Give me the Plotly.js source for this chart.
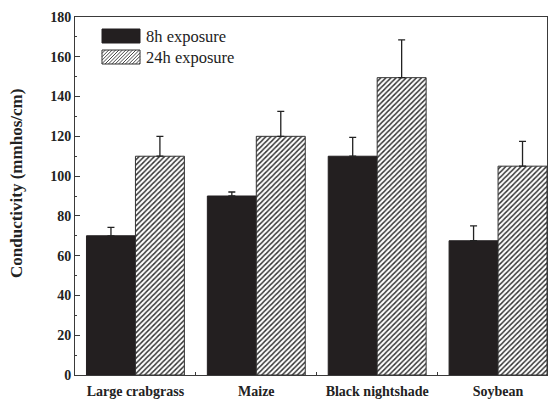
<!DOCTYPE html>
<html>
<head>
<meta charset="utf-8">
<script src="https://cdn.plot.ly/plotly-3.0.1.min.js"></script>
<style>html,body{margin:0;padding:0;background:#fff;}#chart{width:554px;height:399px;}</style>
</head>
<body>
<div id="chart"></div>
<script>
const categories = ["Large crabgrass", "Maize", "Black nightshade", "Soybean"];
const seriesNames = ["8h exposure", "24h exposure"];
const values8h = [70, 90, 110, 67.5];
const errors8h = [4.2, 2, 9.5, 7.5];
const values24h = [110, 120, 149.5, 105];
const errors24h = [10, 12.5, 19, 12.5];
const yTickVals = [0, 20, 40, 60, 80, 100, 120, 140, 160, 180];

const W = 554, H = 399;
const M = {l: 75, r: 7, t: 17, b: 24};
const pw = W - M.l - M.r, ph = H - M.t - M.b;
const px = x => (x - M.l) / pw;
const py = y => (H - M.b - y) / ph;

const serif = "'Liberation Serif', 'Times New Roman', serif";
const dark = "#231f20";

const traces = [
  {
    type: "bar", name: seriesNames[0], x: categories, y: values8h,
    marker: {color: dark, line: {color: dark, width: 1}},
    error_y: {type: "data", array: errors8h, arrayminus: errors8h.map(() => 0), symmetric: false,
              color: "#222", thickness: 1.3, width: 3.5},
    showlegend: false
  },
  {
    type: "bar", name: seriesNames[1], x: categories, y: values24h,
    marker: {color: "#ffffff", line: {color: "#333", width: 1},
             pattern: {shape: "/", size: 3.6, solidity: 0.4, fgcolor: "#333", bgcolor: "#ffffff"}},
    error_y: {type: "data", array: errors24h, arrayminus: errors24h.map(() => 0), symmetric: false,
              color: "#222", thickness: 1.3, width: 3.5},
    showlegend: false
  }
];

// legend drawn as shapes + text
const lx0 = 102, lx1 = 140;
const rows = [{y0: 29, y1: 43}, {y0: 50, y1: 64}];
const shapes = [
  {type: "rect", xref: "paper", yref: "paper", x0: px(lx0), x1: px(lx1), y0: py(rows[0].y1), y1: py(rows[0].y0),
   fillcolor: dark, line: {color: dark, width: 1}},
  {type: "rect", xref: "paper", yref: "paper", x0: px(lx0), x1: px(lx1), y0: py(rows[1].y1), y1: py(rows[1].y0),
   fillcolor: "#fff", line: {color: "#333", width: 1}}
];
// hatch lines for legend box
(function () {
  const bw = lx1 - lx0, bh = rows[1].y1 - rows[1].y0;
  let d = "";
  for (let k = -bh; k < bw; k += 3.4) {
    let xa = k, ya = 0, xb = k + bh, yb = bh;
    if (xa < 0) { ya = -xa; xa = 0; }
    if (xb > bw) { yb = bh - (xb - bw); xb = bw; }
    const X1 = px(lx0 + xa), Y1 = py(rows[1].y1 - ya);
    const X2 = px(lx0 + xb), Y2 = py(rows[1].y1 - yb);
    d += `M${X1},${Y1}L${X2},${Y2}`;
  }
  shapes.push({type: "path", xref: "paper", yref: "paper", path: d, line: {color: "#333", width: 0.9}});
})();

const annotations = [
  {text: seriesNames[0], xref: "paper", yref: "paper", x: px(144), y: py(36), xanchor: "left", yanchor: "middle",
   showarrow: false, font: {family: serif, size: 16.5, color: "#222"}},
  {text: seriesNames[1], xref: "paper", yref: "paper", x: px(144), y: py(57), xanchor: "left", yanchor: "middle",
   showarrow: false, font: {family: serif, size: 16.5, color: "#222"}},
  {text: "Conductivity (mmhos/cm)", xref: "paper", yref: "paper", x: px(16), y: py(184), xanchor: "center", yanchor: "middle",
   textangle: -90, showarrow: false, font: {family: serif, size: 17, color: "#222", weight: "bold"}}
];

const layout = {
  width: W, height: H,
  margin: M,
  paper_bgcolor: "#fff", plot_bgcolor: "#fff",
  barmode: "group", bargap: 0.19, bargroupgap: 0,
  showlegend: false,
  font: {family: serif, color: "#222"},
  xaxis: {
    type: "category", range: [-0.5, 3.405],
    showline: true, mirror: true, linecolor: "#3a3a3a", linewidth: 1,
    ticks: "inside", tickson: "boundaries", ticklen: 3, tickcolor: "#3a3a3a",
    ticklabelstandoff: 3,
    tickfont: {family: serif, size: 14, color: "#222", weight: "bold"},
    showgrid: false, zeroline: false, fixedrange: true
  },
  yaxis: {
    range: [0, 180], tickvals: yTickVals,
    showline: true, mirror: true, linecolor: "#3a3a3a", linewidth: 1,
    ticks: "inside", ticklen: 5, tickcolor: "#3a3a3a",
    minor: {dtick: 10, ticks: "inside", ticklen: 2, tickcolor: "#3a3a3a"},
    tickfont: {family: serif, size: 14, color: "#222", weight: "bold"},
    showgrid: false, zeroline: false, fixedrange: true
  },
  shapes: shapes,
  annotations: annotations
};

Plotly.newPlot("chart", traces, layout, {displayModeBar: false, staticPlot: true});
</script>
</body>
</html>
